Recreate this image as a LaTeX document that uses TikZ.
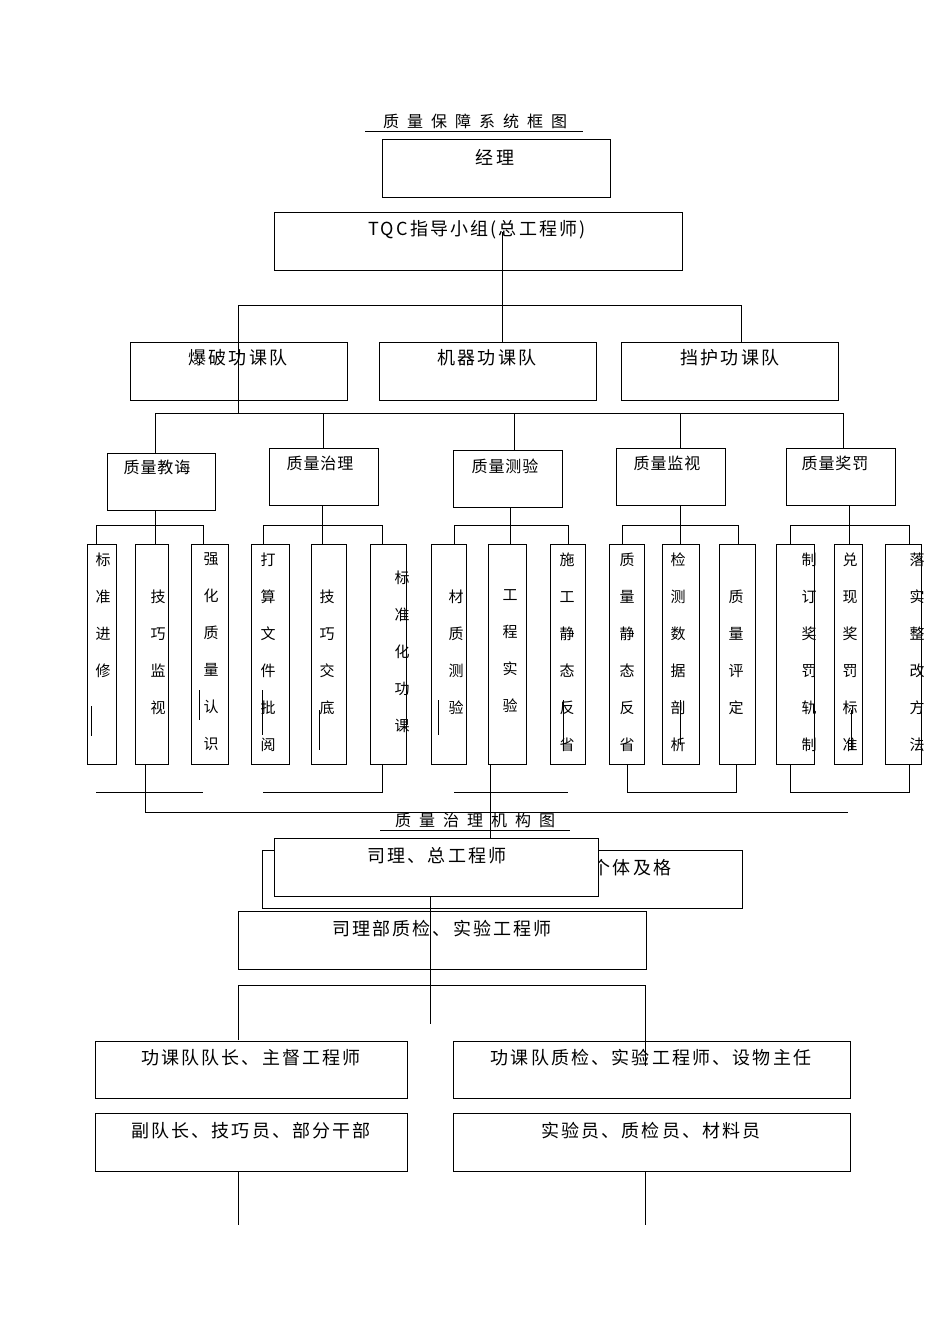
\documentclass[tikz,border=0pt]{standalone}
\usepackage{fontspec}
\setmainfont{Noto Sans CJK SC}
\begin{document}
\begin{tikzpicture}[x=1pt,y=-1pt,line width=1pt,
  bx/.style={draw,fill=white},
  big/.style={font=\fontsize{18}{18}\selectfont\addfontfeature{LetterSpace=12},inner sep=0},
  mid/.style={font=\fontsize{16}{16}\selectfont\addfontfeature{LetterSpace=6},inner sep=0},
  vt/.style={font=\fontsize{15}{37}\selectfont,inner sep=0,align=center,anchor=north}]
\useasboundingbox[fill=white] (0,0) rectangle (950,1344);
% title 1
\node[mid] (t1) at (475,121) {质\,\,\,量\,\,\,保\,\,\,障\,\,\,系\,\,\,统\,\,\,框\,\,\,图};
\draw[line width=0.8pt] (365,131) -- (583,131);
\draw[bx] (382,139) rectangle (610,197); \node[big] (jl) at (495,157) {经理};
\draw[bx] (274,212) rectangle (682,270); \node[big] (tqc) at (477,230) {TQC指导小组(总工程师)};
\draw (502,232) -- (502,305) (238,305) -- (741,305);
% teams
\draw[bx] (130,342) rectangle (347,400); \node[big] (b1) at (238,358) {爆破功课队};
\draw[bx] (379,342) rectangle (596,400); \node[big] (b2) at (487,358) {机器功课队};
\draw[bx] (621,342) rectangle (838,400); \node[big] (b3) at (730,358) {挡护功课队};
\draw (238,305) -- (238,413) (502,305) -- (502,342) (741,305) -- (741,342);
\draw (155,413) -- (843,413);
\draw (155,413)--(155,453) (323,413)--(323,448) (514,413)--(514,450) (680,413)--(680,448) (843,413)--(843,448);
% categories
\draw[bx] (107,453) rectangle (215,510); \node[mid] (c1) at (157,467) {质量教诲};
\draw[bx] (269,448) rectangle (378,505); \node[mid] (c2) at (320,463) {质量治理};
\draw[bx] (453,450) rectangle (562,507); \node[mid] (c3) at (505,466) {质量测验};
\draw[bx] (616,448) rectangle (725,505); \node[mid] (c4) at (667,463) {质量监视};
\draw[bx] (786,448) rectangle (895,505); \node[mid] (c5) at (835,463) {质量奖罚};
% brackets
\draw (155,510)--(155,544) (96,525)--(203,525) (96,525)--(96,544) (203,525)--(203,544);
\draw (322,505)--(322,544) (263,525)--(382,525) (263,525)--(263,544) (382,525)--(382,544);
\draw (510,507)--(510,544) (454,525)--(568,525) (454,525)--(454,544) (568,525)--(568,544);
\draw (680,505)--(680,544) (622,525)--(738,525) (622,525)--(622,544) (738,525)--(738,544);
\draw (849,505)--(849,544) (790,525)--(909,525) (790,525)--(790,544) (909,525)--(909,544);
% tall boxes
\foreach \a/\b in {87/116,135/168,191/228,251/289,311/346,370/406,431/466,488/526,550/585,609/644,662/699,719/755,776/814,834/862,885/921}
  \draw (\a,544) rectangle (\b,764);
\node[vt] (v1) at (103,552) {标\\准\\进\\修};
\node[vt] (v2) at (158,589) {技\\巧\\监\\视};
\node[vt] (v3) at (211,552) {强\\化\\质\\量\\认\\识};
\node[vt] (v4) at (268,552) {打\\算\\文\\件\\批\\阅};
\node[vt] (v5) at (327,589) {技\\巧\\交\\底};
\node[vt] (v6) at (402,570) {标\\准\\化\\功\\课};
\node[vt] (v7) at (456,589) {材\\质\\测\\验};
\node[vt] (v8) at (510,589) {工\\程\\实\\验};
\node[vt] (v9) at (567,552) {施\\工\\静\\态\\反\\省};
\node[vt] (v10) at (627,552) {质\\量\\静\\态\\反\\省};
\node[vt] (v11) at (678,552) {检\\测\\数\\据\\剖\\析};
\node[vt] (v12) at (736,589) {质\\量\\评\\定};
\node[vt] (v13) at (809,552) {制\\订\\奖\\罚\\轨\\制};
\node[vt] (v14) at (850,552) {兑\\现\\奖\\罚\\标\\准};
\node[vt] (v15) at (917,552) {落\\实\\整\\改\\方\\法};
% stray marks
\draw (91,706)--(91,736) (199,690)--(199,720) (262,690)--(262,735) (319,710)--(319,750) (438,700)--(438,735) (563,700)--(563,745) (680,700)--(680,745) (851,710)--(851,750);
% lower lines
\draw (145,764)--(145,812)--(848,812);
\draw (96,792)--(203,792) (263,792)--(382,792)--(382,764) (454,792)--(568,792);
\draw (627,764)--(627,792)--(736,792)--(736,764);
\draw (790,764)--(790,792)--(909,792)--(909,764);
\draw (490,764)--(490,840);
% title 2
\node[mid] (t2) at (475,820) {质\,\,\,量\,\,\,治\,\,\,理\,\,\,机\,\,\,构\,\,\,图};
\draw[line width=0.8pt] (380,830) -- (570,830);
\draw[bx] (262,850) rectangle (742,908); \node[big] (tj) at (632,868) {个体及格};
\draw[bx] (274,838) rectangle (598,896); \node[big] (sl) at (437,856) {司理、总工程师};
\draw[bx] (238,911) rectangle (646,969); \node[big] (sz) at (442,929) {司理部质检、实验工程师};
\draw (430,896)--(430,1024);
\draw (238,1040)--(238,985)--(645,985)--(645,1060);
\draw[bx] (95,1041) rectangle (407,1098); \node[big] (d1) at (251,1058) {功课队队长、主督工程师};
\draw (453,1041) rectangle (850,1098); \node[big] (d2) at (651,1058) {功课队质检、实验工程师、设物主任};
\draw (645,1040)--(645,1066);
\draw[bx] (95,1113) rectangle (407,1171); \node[big] (e1) at (251,1131) {副队长、技巧员、部分干部};
\draw[bx] (453,1113) rectangle (850,1171); \node[big] (e2) at (651,1131) {实验员、质检员、材料员};
\draw (238,1171)--(238,1225) (645,1171)--(645,1225);
\end{tikzpicture}
\end{document}
